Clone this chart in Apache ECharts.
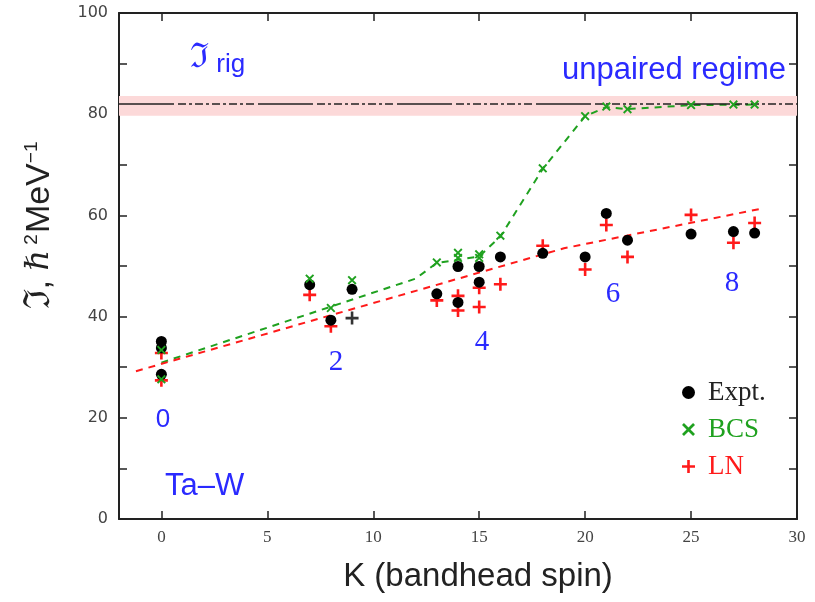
<!DOCTYPE html>
<html>
<head>
<meta charset="utf-8">
<script src="https://cdn.jsdelivr.net/npm/echarts@6/dist/echarts.min.js"></script>
<style>html,body{margin:0;padding:0;background:#fff}#c{width:815px;height:602px}</style>
</head>
<body>
<div id="c"></div>
<script>
// ---- data ----
const xTicks = [0, 5, 10, 15, 20, 25, 30];
const exptPoints = [[0,35.1],[0,33.8],[0,28.6],[7,46.3],[8,39.3],[9,45.4],[13,44.5],[14,49.9],[14,42.8],[15,49.9],[15,46.8],[16,51.8],[18,52.5],[20,51.8],[21,60.4],[22,55.1],[25,56.3],[27,56.8],[28,56.5]];
const bcsPoints = [[0,33.4],[0,27.6],[7,47.5],[8,41.7],[9,47.2],[13,50.7],[14,52.6],[14,51.6],[15,52.3],[15,51.6],[16,56.0],[18,69.3],[20,79.6],[21,81.5],[22,81.0],[25,81.8],[27,81.9],[28,81.9]];
const lnPoints = [[0,32.8],[0,27.4],[7,44.3],[8,38.1],[13,43.2],[14,44.1],[14,41.2],[15,45.7],[15,41.9],[16,46.4],[18,54.0],[20,49.3],[21,58.1],[22,51.8],[25,60.1],[27,54.6],[28,58.5]];
const lnDarkPoints = [[9,39.7]];
const bcsTrend = [[0,30.9],[12,47.5],[13,50.6],[15,51.9],[16,55.8],[18,69.2],[20,79.6],[21,81.4],[22,81.0],[25,81.8],[28,81.9]];
const lnTrend = [[-1.2,29.2],[19,53.5],[28.4,61.4]];
const rigidValue = 82;
const rigidBand = [79.7, 83.6];

const plusPath = 'path://M4,0H6V4H10V6H6V10H4V6H0V4H4Z';
const crossPath = 'path://M0,1.5L1.5,0L5,3.5L8.5,0L10,1.5L6.5,5L10,8.5L8.5,10L5,6.5L1.5,10L0,8.5L3.5,5Z';
const GREEN = '#1fa11f', RED = '#ff1a1a', BLUE = '#2a2aff', AX = '#222';

const chart = echarts.init(document.getElementById('c'), null, {renderer: 'canvas'});

function xAx(pos, labels) {
  return {
    type: 'value', min: -2, max: 30, position: pos,
    axisLine: {show: true, onZero: false, lineStyle: {color: AX, width: 2}},
    axisTick: {show: true, inside: true, length: 8, customValues: xTicks, lineStyle: {color: AX, width: 1.5}},
    axisLabel: {show: labels, customValues: xTicks, fontFamily: 'Liberation Serif', fontSize: 17, color: '#444', margin: 10},
    splitLine: {show: false}
  };
}
function yAx(pos, labels) {
  return {
    type: 'value', min: 0, max: 100, interval: 10, position: pos,
    axisLine: {show: true, onZero: false, lineStyle: {color: AX, width: 2}},
    axisTick: {show: true, inside: true, length: 8, lineStyle: {color: AX, width: 1.5}},
    axisLabel: {show: labels, formatter: v => (v % 20 === 0 ? String(v) : ''), fontFamily: 'DejaVu Sans', fontSize: 16, color: '#444', margin: 11},
    splitLine: {show: false}
  };
}

const option = {
  backgroundColor: '#fff',
  animation: false,
  grid: {left: 119, right: 18, top: 13, bottom: 83, containLabel: false},
  xAxis: [xAx('bottom', true), xAx('top', false)],
  yAxis: [yAx('left', true), yAx('right', false)],
  legend: {
    orient: 'vertical', left: 677, top: 374, itemGap: 10, itemWidth: 13, itemHeight: 13,
    textStyle: {fontFamily: 'Liberation Serif', fontSize: 27, padding: [0, 0, 0, 8]},
    data: [
      {name: 'Expt.', icon: 'circle', textStyle: {color: '#222'}},
      {name: 'BCS', icon: crossPath, textStyle: {color: GREEN}},
      {name: 'LN', icon: plusPath, textStyle: {color: RED}}
    ]
  },
  series: [
    {
      name: 'rigid', type: 'line', data: [], silent: true,
      markArea: {silent: true, itemStyle: {color: '#fcd9d9'}, data: [[{yAxis: rigidBand[0]}, {yAxis: rigidBand[1]}]]},
      markLine: {silent: true, symbol: 'none', label: {show: false},
        lineStyle: {color: '#222', width: 1.5, type: [55, 4, 8, 3, 3, 3, 8, 3, 3, 3, 8, 3, 3, 3, 8, 3, 3, 3, 8, 4]},
        data: [{yAxis: rigidValue}]}
    },
    {name: 'BCS fit', type: 'line', data: bcsTrend, showSymbol: false, symbol: 'none', z: 2,
      lineStyle: {color: GREEN, width: 2, type: [7, 6]}},
    {name: 'LN fit', type: 'line', data: lnTrend, showSymbol: false, symbol: 'none', z: 2,
      lineStyle: {color: RED, width: 2, type: [7, 6]}},
    {name: 'LN', type: 'scatter', data: lnPoints, symbol: plusPath, symbolSize: 13, itemStyle: {color: RED, opacity: 1}, z: 3},
    {name: 'LN dark', type: 'scatter', data: lnDarkPoints, symbol: plusPath, symbolSize: 13, itemStyle: {color: '#333', opacity: 1}, z: 3},
    {name: 'Expt.', type: 'scatter', data: exptPoints, symbol: 'circle', symbolSize: 11, itemStyle: {color: '#000', opacity: 1}, z: 4},
    {name: 'BCS', type: 'scatter', data: bcsPoints, symbol: crossPath, symbolSize: 9, itemStyle: {color: GREEN, opacity: 1}, z: 5}
  ],
  graphic: [
    {type: 'text', x: 40, y: 225, rotation: Math.PI / 2, style: {
      text: '{f|ℑ}{n|, }{h|ℏ}{s| 2}{n|MeV}{s|−1}', align: 'center', verticalAlign: 'middle', fill: '#222',
      rich: {
        f: {fontFamily: 'DejaVu Serif', fontSize: 36, fill: '#222'},
        n: {fontFamily: 'Liberation Sans', fontSize: 34, fill: '#222'},
        h: {fontFamily: 'DejaVu Serif', fontStyle: 'italic', fontSize: 32, fill: '#222'},
        s: {fontFamily: 'Liberation Sans', fontSize: 19, fill: '#222', padding: [0, 1, 17, 0]}
      }}},
    {type: 'text', x: 478, y: 577, style: {text: 'K (bandhead spin)', font: '33px "Liberation Sans"', fill: '#222', align: 'center', verticalAlign: 'middle'}},
    {type: 'text', x: 190, y: 58, style: {
      text: '{f|ℑ}{r| rig}', align: 'left', verticalAlign: 'middle',
      rich: {f: {fontFamily: 'DejaVu Serif', fontSize: 34, fill: BLUE}, r: {fontFamily: 'Liberation Sans', fontSize: 26, fill: BLUE, padding: [14, 0, 0, 0]}}}},
    {type: 'text', x: 786, y: 70, style: {text: 'unpaired regime', font: '31px "Liberation Sans"', fill: BLUE, align: 'right', verticalAlign: 'middle'}},
    {type: 'text', x: 163, y: 420, style: {text: '0', font: '26px "Liberation Sans"', fill: BLUE, align: 'center', verticalAlign: 'middle'}},
    {type: 'text', x: 336, y: 362, style: {text: '2', font: '29px "Liberation Serif"', fill: BLUE, align: 'center', verticalAlign: 'middle'}},
    {type: 'text', x: 482, y: 342, style: {text: '4', font: '29px "Liberation Serif"', fill: BLUE, align: 'center', verticalAlign: 'middle'}},
    {type: 'text', x: 613, y: 294, style: {text: '6', font: '29px "Liberation Serif"', fill: BLUE, align: 'center', verticalAlign: 'middle'}},
    {type: 'text', x: 732, y: 283, style: {text: '8', font: '29px "Liberation Serif"', fill: BLUE, align: 'center', verticalAlign: 'middle'}},
    {type: 'text', x: 165, y: 486, style: {text: 'Ta–W', font: '31px "Liberation Sans"', fill: BLUE, align: 'left', verticalAlign: 'middle'}}
  ]
};
chart.setOption(option);
</script>
</body>
</html>
